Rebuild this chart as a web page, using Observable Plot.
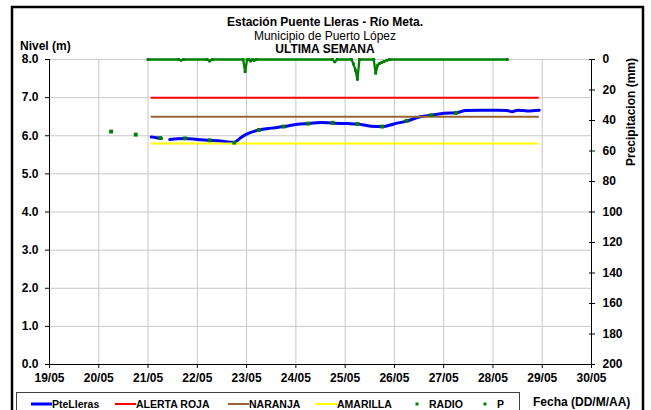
<!DOCTYPE html>
<html>
<head>
<meta charset="utf-8">
<script src="https://cdn.jsdelivr.net/npm/d3@7"></script>
<script src="https://cdn.jsdelivr.net/npm/@observablehq/plot@0.6"></script>
<style>
  html, body { margin: 0; padding: 0; background: white; }
  #chart { width: 651px; height: 410px; overflow: hidden; }
</style>
</head>
<body>
<div id="chart"></div>
<script>
// ---- Data (day of May, fractional) ----
const nivelFecha = [21.065, 21.17, 21.27, 21.36, 21.44, 21.6, 21.76, 22.0, 22.25, 22.47, 22.74, 22.88, 23.01, 23.25, 23.49, 23.76, 24.03, 24.27, 24.5, 24.76, 25.04, 25.25, 25.52, 25.76, 25.99, 26.26, 26.53, 26.75, 27.01, 27.24, 27.45, 27.75, 28.09, 28.29, 28.39, 28.5, 28.7, 28.94];
const nivelValor = [5.97, 5.95, 5.93, null, 5.9, 5.92, 5.93, 5.9, 5.88, 5.86, 5.82, 5.95, 6.05, 6.15, 6.2, 6.24, 6.3, 6.32, 6.35, 6.33, 6.32, 6.31, 6.25, 6.24, 6.31, 6.39, 6.5, 6.54, 6.59, 6.6, 6.66, 6.67, 6.67, 6.66, 6.63, 6.67, 6.65, 6.67];

const radioFecha = [20.25, 20.75, 21.25, 21.75, 22.25, 22.75, 23.25, 23.75, 24.25, 24.75, 25.25, 25.75, 26.25, 26.75, 27.25];
const radioValor = [6.11, 6.03, 5.94, 5.93, 5.88, 5.82, 6.15, 6.24, 6.32, 6.34, 6.31, 6.24, 6.39, 6.54, 6.60];

const pFecha = [21.0, 21.62, 21.67, 21.72, 22.2, 22.25, 22.3, 22.93, 22.97, 23.01, 23.05, 23.08, 23.12, 23.15, 23.19, 24.74, 24.79, 24.84, 25.13, 25.17, 25.21, 25.25, 25.29, 25.58, 25.62, 25.66, 25.70, 25.74, 25.79, 25.85, 25.9, 28.29];
const pMm    = [0, 0, 0.5, 0, 0, 1, 0, 0, 8, 0, 0, 1, 0, 0.7, 0, 0, 1.5, 0, 0, 3, 7, 13, 0, 0, 9, 3.7, 2.6, 2, 1.3, 0.5, 0, 0];

const umbralNombre = ["ALERTA ROJA", "NARANJA", "AMARILLA"];
const umbralNivel = [7.0, 6.5, 5.8];
const umbralColor = ["#ff0000", "#996633", "#ffff00"];

const xTicks = [19, 20, 21, 22, 23, 24, 25, 26, 27, 28, 29, 30];
const yTicks = [0, 1, 2, 3, 4, 5, 6, 7, 8];
const pTicks = [0, 20, 40, 60, 80, 100, 120, 140, 160, 180, 200];

const titulo = "Estación Puente Lleras - Río Meta.";
const subtitulo = "Municipio de Puerto López";
const subtitulo2 = "ULTIMA SEMANA";

// ---- Build tables ----
const nivelMax = 8, pMax = 200;
const pToNivel = mm => nivelMax - mm * nivelMax / pMax;
const nivelData = nivelFecha.map((f, i) => ({fecha: f, nivel: nivelValor[i] == null ? NaN : nivelValor[i]}));
const radioData = radioFecha.map((f, i) => ({fecha: f, nivel: radioValor[i]}));
const pData = pFecha.map((f, i) => ({fecha: f, y: pToNivel(pMm[i])}));
const fIni = nivelFecha[0], fFin = nivelFecha[nivelFecha.length - 1];
const umbrales = umbralNombre.map((n, i) => ({nombre: n, nivel: umbralNivel[i], color: umbralColor[i], x1: fIni, x2: fFin}));

const FONT = "'Liberation Sans', Arial, Helvetica, sans-serif";
const blue = "#0000ff", green = "#008000", grid = "#c8c8c8";

const chart = Plot.plot({
  width: 651, height: 410,
  marginLeft: 49, marginRight: 60, marginTop: 59, marginBottom: 46,
  style: {fontFamily: FONT, fontSize: "12px", background: "white", color: "black"},
  x: {domain: [19, 30]},
  y: {domain: [0, 8]},
  marks: [
    Plot.ruleX(xTicks.slice(1, -1), {stroke: grid, strokeWidth: 1}),
    Plot.ruleY(yTicks.slice(1), {stroke: grid, strokeWidth: 1}),
    Plot.ruleX([19, 30], {stroke: "black"}),
    Plot.ruleY([0], {stroke: "black"}),
    Plot.axisX({ticks: xTicks, tickFormat: d => `${d}/05`, tickSize: 4, tickPadding: 5, fontWeight: "bold", fontSize: 12, label: null}),
    Plot.axisY({anchor: "left", ticks: yTicks, tickFormat: d => d.toFixed(1), tickSize: 4, tickPadding: 7, fontWeight: "bold", fontSize: 12, label: null}),
    Plot.axisY({anchor: "right", ticks: pTicks.map(pToNivel), tickFormat: d => String(Math.round((nivelMax - d) * pMax / nivelMax)), tickSize: 6, insetRight: 3, tickPadding: 8, fontWeight: "bold", fontSize: 12, label: null}),
    Plot.line(nivelData, {x: "fecha", y: "nivel", stroke: blue, strokeWidth: 3, curve: "monotone-x"}),
    Plot.ruleY(umbrales, {y: "nivel", x1: "x1", x2: "x2", stroke: "color", strokeWidth: 2}),
    Plot.dot(radioData, {x: "fecha", y: "nivel", fill: green, r: 2.2, symbol: "square"}),
    Plot.line(pData, {x: "fecha", y: "y", stroke: green, strokeWidth: 2.3}),
    Plot.dot(pData, {x: "fecha", y: "y", fill: green, r: 1.6, symbol: "square"})
  ]
});
document.getElementById("chart").appendChild(chart);

// ---- Titles, labels, legend, frame ----
const svg = d3.select(chart);
const addText = (x, y, txt, opts = {}) => svg.append("text")
  .attr("x", x).attr("y", y)
  .attr("font-family", FONT)
  .attr("font-size", opts.size || 12)
  .attr("font-weight", opts.weight || "bold")
  .attr("text-anchor", opts.anchor || "middle")
  .attr("dominant-baseline", "central")
  .attr("transform", opts.rotate ? `rotate(${opts.rotate},${x},${y})` : null)
  .attr("fill", "black")
  .text(txt);

addText(325, 22, titulo, {size: 12});
addText(325, 35.5, subtitulo, {size: 12, weight: "normal"});
addText(325, 49, subtitulo2, {size: 12});
addText(20, 46, "Nivel (m)", {anchor: "start"});
addText(631, 112, "Precipitacion (mm)", {rotate: -90, size: 12});
addText(533, 402, "Fecha (DD/M/AA)", {anchor: "start"});

// Legend
const leg = svg.append("g");
leg.append("rect").attr("x", 16.5).attr("y", 392.5).attr("width", 503).attr("height", 40)
  .attr("fill", "white").attr("stroke", "#404040").attr("stroke-width", 1);
const ly = 404;
const legItems = [
  {name: "PteLleras", kind: "line", color: blue, x: 31, w: 3},
  ...umbralNombre.map((n, i) => ({name: n, kind: "line", color: umbralColor[i], x: [115, 228, 316][i], w: 2})),
  {name: "RADIO", kind: "dot", color: green, x: 417},
  {name: "P", kind: "dot", color: green, x: 485}
];
legItems.forEach(it => {
  if (it.kind === "line") {
    leg.append("line").attr("x1", it.x).attr("x2", it.x + 21).attr("y1", ly).attr("y2", ly)
      .attr("stroke", it.color).attr("stroke-width", it.w);
  } else {
    leg.append("rect").attr("x", it.x - 1.5).attr("y", ly - 1.5).attr("width", 3).attr("height", 3).attr("fill", it.color);
  }
  leg.append("text").attr("x", it.kind === "line" ? it.x + 21 : it.x + 12).attr("y", ly)
    .attr("dominant-baseline", "central").attr("text-anchor", "start")
    .attr("font-family", FONT).attr("font-size", 10.5).attr("font-weight", "bold")
    .attr("fill", "black").text(it.name);
});

// Outer frame
svg.append("rect").attr("x", 12).attr("y", 7).attr("width", 631).attr("height", 430)
  .attr("fill", "none").attr("stroke", "black").attr("stroke-width", 2.5);
</script>
</body>
</html>
